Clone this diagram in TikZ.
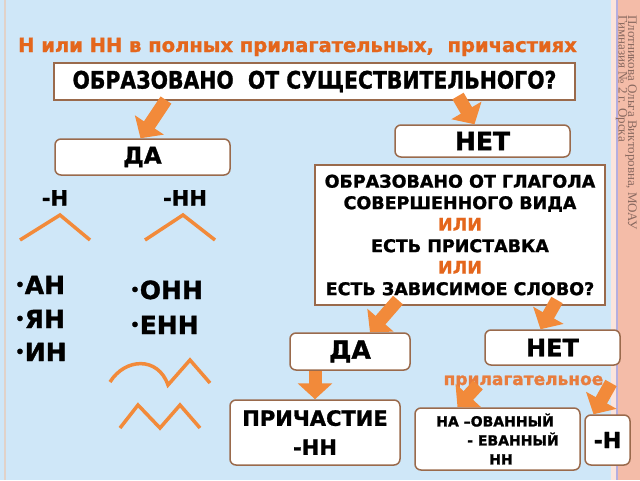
\documentclass[tikz,border=0pt]{standalone}
\usepackage{fontspec}
\setmainfont{DejaVu Sans}[BoldFeatures={FakeBold=1.3}]
\newfontfamily\serifru{Liberation Serif}
\usetikzlibrary{arrows.meta,positioning}

\definecolor{fonblue}{HTML}{CFE7F8}
\definecolor{ramka}{HTML}{9A6A4C}
\definecolor{oranzh}{HTML}{F28A3A}
\definecolor{zagol}{HTML}{E4661C}
\definecolor{polosa}{HTML}{F4BCA8}
\definecolor{avtor}{HTML}{8A6A60}

\newcommand{\tochka}{\raisebox{4pt}{\fontsize{15}{15}\selectfont•}}

\tikzset{
    boxbase/.style={ % базовый блок
        draw=ramka,
        line width=1.5pt,
        fill=white,
        align=center,
        inner sep=0pt,
        font=\bfseries
    },
    vopros/.style={ % вопрос: прямоугольник
        boxbase
    },
    otvet/.style={ % ответ: скруглённый блок
        boxbase,
        rounded corners=6pt
    },
    strelka/.style={ % оранжевая стрелка
        draw=oranzh,
        line width=13pt,
        -{Triangle[length=16pt,width=34pt]}
    },
    galka/.style={draw=oranzh, line width=3.5pt}, % значки над суффиксами
    bukvy/.style={font=\bfseries\fontsize{25}{28}\selectfont, inner sep=0pt, anchor=base west},
    konec/.style={font=\bfseries\fontsize{21}{25}\selectfont, inner sep=0pt, anchor=base}
}

\begin{document}
\begin{tikzpicture}[x=1pt, y=-1pt]

        \useasboundingbox (0,0) rectangle (640,480);
        \fill[fonblue] (0,0) rectangle (640,480);
        \draw[color=ramka!30!white, line width=2pt] (5,0) -- (5,480);
        \fill[polosa!40!white] (611,0) rectangle (617,480);
        \fill[polosa] (617,0) rectangle (640,480);
        \draw[color=avtor!50!blue!40!white, line width=1.5pt] (617,0) -- (617,480);

        \node [rotate=-90, anchor=west, inner sep=0pt, text=avtor, font=\serifru\fontsize{13}{13}\selectfont] (avtor1) at (631,15) {Плотникова Ольга Викторовна, МОАУ};
        \node [rotate=-90, anchor=west, inner sep=0pt, text=avtor, font=\serifru\fontsize{13}{13}\selectfont] (avtor2) at (621.5,15) {Гимназия № 2 г. Орска};

        \node [inner sep=0pt, anchor=base, text=zagol, font=\bfseries\fontsize{19.5}{22}\selectfont] (title) at (297.5,52) {Н или НН в полных прилагательных,\ \ причастиях};

        \node [vopros, minimum width=521pt, minimum height=37pt, font=\bfseries\fontsize{24}{28}\selectfont] (q1) at (314.5,81.5) {\scalebox{0.85}[1]{ОБРАЗОВАНО\ \ ОТ СУЩЕСТВИТЕЛЬНОГО?}};

        \node [otvet, minimum width=175pt, minimum height=36pt, font=\bfseries\fontsize{23}{26}\selectfont] (da1) at (142.5,157) {ДА};
        \node [otvet, minimum width=175pt, minimum height=32pt, font=\bfseries\fontsize{25}{28}\selectfont] (net1) at (482.5,141) {НЕТ};

        \node [konec] (n1) at (55,205.5) {-Н};
        \node [konec] (nn1) at (185,205.5) {-НН};
        \draw[galka] (20,240) -- (60,215) -- (90,240);
        \draw[galka] (145,240) -- (183,215) -- (215,240);

        \node [bukvy] (an) at (15,294) {\tochka АН};
        \node [bukvy] (yan) at (15,328) {\tochka ЯН};
        \node [bukvy] (in) at (15,361) {\tochka ИН};
        \node [bukvy] (onn) at (130,299) {\tochka ОНН};
        \node [bukvy] (enn) at (130,334) {\tochka ЕНН};

        \draw[galka] (110,382) .. controls (125,358) and (158,356) .. (168,385) -- (190,360) -- (210,383);
        \draw[galka] (120,428) -- (138,405) -- (160,428) -- (180,405) -- (200,428);

        \node [vopros, minimum width=290pt, minimum height=140pt, font=\bfseries\fontsize{17.5}{21.5}\selectfont] (q2) at (460,235) {ОБРАЗОВАНО ОТ ГЛАГОЛА\\СОВЕРШЕННОГО ВИДА\\{\color{zagol}ИЛИ}\\ЕСТЬ ПРИСТАВКА\\{\color{zagol}ИЛИ}\\ЕСТЬ ЗАВИСИМОЕ СЛОВО?};

        \node [otvet, minimum width=120pt, minimum height=37pt, font=\bfseries\fontsize{25}{28}\selectfont] (da2) at (350,351.5) {ДА};
        \node [otvet, minimum width=135pt, minimum height=35pt, font=\bfseries\fontsize{24}{28}\selectfont] (net2) at (552.5,347.5) {НЕТ};

        \node [inner sep=0pt, anchor=base, text=zagol!85!white, font=\bfseries\fontsize{17}{20}\selectfont] (prilag) at (523.5,385) {прилагательное};

        \node [otvet, minimum width=170pt, minimum height=65pt, font=\bfseries\fontsize{21}{29}\selectfont] (prich) at (315,432.5) {ПРИЧАСТИЕ\\-НН};
        \node [otvet, minimum width=165pt, minimum height=62pt, align=left, font=\bfseries\fontsize{14}{19}\selectfont] (na) at (497.5,439) {НА –ОВАННЫЙ\\\hspace*{31pt}- ЕВАННЫЙ\\\hspace*{53pt}НН};
        \node [otvet, minimum width=45pt, minimum height=50pt, font=\bfseries\fontsize{22}{26}\selectfont] (mn) at (607.5,440) {-Н};

        \coordinate (a1) at (166,100);
        \coordinate (a2) at (458,96);
        \coordinate (a3) at (398,300);
        \coordinate (a4) at (557,300);
        \coordinate (a6) at (478,385);
        \coordinate (a7) at (611,383);

        \draw[strelka] (a1) -- ([xshift=-2pt]da1.north);
        \draw[strelka] (a2) -- ([xshift=-8pt]net1.north);
        \draw[strelka] (a3) -- ([xshift=20pt]da2.north);
        \draw[strelka] (a4) -- ([xshift=-12pt]net2.north);
        \draw[strelka] (da2.south -| prich.north) -- (prich.north);
        \draw[strelka] (a6) -- ([xshift=-40pt]na.north);
        \draw[strelka] (a7) -- ([xshift=-14pt]mn.north);

\end{tikzpicture}
\end{document}
